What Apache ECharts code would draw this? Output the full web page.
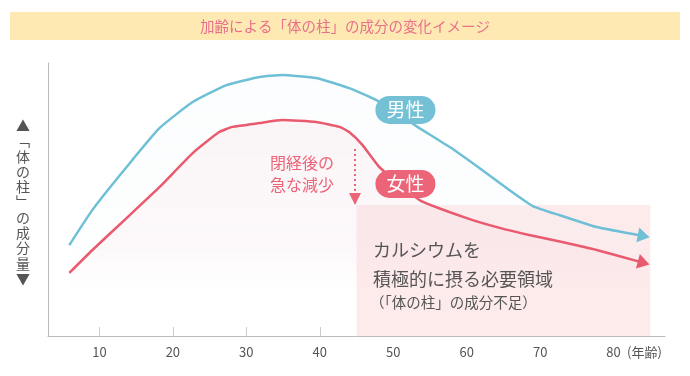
<!DOCTYPE html>
<html>
<head>
<meta charset="utf-8">
<script src="https://cdn.jsdelivr.net/npm/echarts@6/dist/echarts.min.js"></script>
<style>
  html, body { margin: 0; padding: 0; background: #fff; }
  #chart { width: 690px; height: 376px; }
</style>
</head>
<body>
<div id="chart"></div>
<script>
// 年齢 / 成分量 (0-100)
const maleData = [
  [5.9, 33.3], [9.05, 46.2], [13.7, 61.9], [18.2, 76.2], [22.7, 85.7],
  [27.3, 91.9], [31.8, 94.9], [34.9, 95.6], [39.5, 94.5], [44.0, 90.8],
  [47.7, 86.4], [53.3, 76.6], [57.7, 69.2], [62.1, 60.8], [65.8, 53.5],
  [69.0, 47.6], [72.6, 44.3], [77.7, 39.9], [84.1, 36.6]
]
const femaleData = [
  [5.9, 23.1], [9.05, 31.5], [13.7, 43.2], [18.2, 54.6], [22.7, 67.0],
  [26.3, 74.7], [28.1, 76.6], [31.8, 78.0], [34.9, 79.1], [39.5, 78.4],
  [42.7, 76.6], [44.0, 74.7], [45.8, 70.0], [48.1, 61.9], [53.6, 49.8],
  [60.0, 43.2], [64.5, 39.6], [68.5, 37.0], [73.0, 34.4], [77.7, 31.5],
  [84.1, 26.8]
]
const ageTicks = [10, 20, 30, 40, 50, 60, 70, 80]
const shortageRange = [45, 85, 48] // from, to, top value
const dropArrow = [44.8, 68.5, 50.2] // x, from, to

const FONT = '"Noto Sans CJK JP", "Noto Sans", sans-serif'
const BLUE = '#6fbfd6'
const RED = '#ea5a6f'
const BLUE_PILL = '#74c0d5'
const RED_PILL = '#ec6478'
const SMOOTH = 0.15

// 最後の点だけ矢印にする
function withArrow (data, rotate) {
  return data.map((v, i) => {
    if (i < data.length - 1) { return v }
    return {
      value: v,
      symbol: 'triangle',
      symbolSize: [15, 12],
      symbolRotate: rotate
    }
  })
}

// 下に向かって白く消える面
function fadeArea (rgb, alpha) {
  return new echarts.graphic.LinearGradient(0, 0, 0, 1, [
    { offset: 0, color: 'rgba(' + rgb + ',' + alpha + ')' },
    { offset: 0.6, color: 'rgba(' + rgb + ',' + (alpha * 0.6) + ')' },
    { offset: 0.8, color: 'rgba(' + rgb + ',0)' }
  ])
}

const chart = echarts.init(document.getElementById('chart'))

chart.setOption({
  animation: false,
  textStyle: { fontFamily: FONT },
  grid: { left: 48, right: 25, top: 63, bottom: 40 },
  graphic: [
    // タイトル帯
    {
      type: 'rect',
      shape: { x: 10, y: 12, width: 670, height: 28 },
      style: { fill: '#ffe9b3' },
      z: 0
    },
    {
      type: 'text',
      x: 345,
      y: 26,
      style: {
        text: '加齢による「体の柱」の成分の変化イメージ',
        fill: '#e8708a',
        font: '14.5px ' + FONT,
        align: 'center',
        verticalAlign: 'middle'
      }
    },
    // 縦軸の見出し
    {
      type: 'text',
      x: 23,
      y: 118,
      style: {
        text: ['▲', '﹁', '体', 'の', '柱', '﹂', 'の', '成', '分', '量', '▼'].join('\n'),
        fill: '#555',
        font: '14px ' + FONT,
        lineHeight: 15.3,
        align: 'center',
        verticalAlign: 'top'
      }
    },
    {
      type: 'text',
      x: 627,
      y: 352,
      style: {
        text: '(年齢)',
        fill: '#555',
        font: '13px ' + FONT,
        verticalAlign: 'middle'
      }
    },
    {
      type: 'text',
      x: 270,
      y: 152,
      style: {
        text: '閉経後の\n急な減少',
        fill: RED_PILL,
        font: '16px ' + FONT,
        lineHeight: 22,
        verticalAlign: 'top'
      },
      z: 10
    },
    {
      type: 'text',
      x: 373,
      y: 236,
      style: {
        text: 'カルシウムを\n積極的に摂る必要領域',
        fill: '#555',
        font: '18px ' + FONT,
        lineHeight: 29,
        verticalAlign: 'top'
      },
      z: 10
    },
    {
      type: 'text',
      x: 370,
      y: 302,
      style: {
        text: '（「体の柱」の成分不足）',
        fill: '#555',
        font: '14.5px ' + FONT,
        verticalAlign: 'middle'
      },
      z: 10
    }
  ],
  xAxis: {
    type: 'value',
    min: 3,
    max: 87,
    splitLine: { show: false },
    axisLine: { lineStyle: { color: '#bbb' } },
    axisTick: {
      inside: true,
      length: 9,
      customValues: ageTicks,
      lineStyle: { color: '#ccc' }
    },
    axisLabel: {
      customValues: ageTicks,
      color: '#555',
      fontSize: 13,
      margin: 10
    }
  },
  yAxis: {
    type: 'value',
    min: 0,
    max: 100,
    splitLine: { show: false },
    axisLine: { show: true, lineStyle: { color: '#bbb' } },
    axisTick: { show: false },
    axisLabel: { show: false }
  },
  series: [
    // 面だけ
    {
      type: 'line',
      data: maleData,
      smooth: SMOOTH,
      symbol: 'none',
      silent: true,
      z: 1,
      lineStyle: { width: 0, opacity: 0 },
      areaStyle: { color: fadeArea('225, 242, 247', 0.18) }
    },
    {
      type: 'line',
      data: femaleData,
      smooth: SMOOTH,
      symbol: 'none',
      silent: true,
      z: 1,
      lineStyle: { width: 0, opacity: 0 },
      areaStyle: { color: fadeArea('245, 190, 202', 0.2) }
    },
    // 不足領域と矢印
    {
      type: 'line',
      data: [],
      z: 2,
      markArea: {
        silent: true,
        itemStyle: { color: '#fdebec', opacity: 1 },
        data: [[
          { coord: [shortageRange[0], 0] },
          { coord: [shortageRange[1], shortageRange[2]] }
        ]]
      },
      markLine: {
        silent: true,
        symbol: ['none', 'triangle'],
        symbolSize: [12, 12],
        label: { show: false },
        lineStyle: { color: RED_PILL, type: [2, 3], width: 2 },
        data: [[
          { coord: [dropArrow[0], dropArrow[1]] },
          { coord: [dropArrow[0], dropArrow[2]] }
        ]]
      }
    },
    {
      name: '男性',
      type: 'line',
      data: withArrow(maleData, -101),
      smooth: SMOOTH,
      symbol: 'none',
      z: 3,
      lineStyle: { color: BLUE, width: 2.5 },
      itemStyle: { color: BLUE },
      markPoint: {
        symbolSize: 0,
        data: [{ coord: [51.66, 82.8] }],
        label: {
          show: true,
          position: 'inside',
          formatter: '男性',
          color: '#fff',
          fontSize: 19,
          lineHeight: 22,
          backgroundColor: BLUE_PILL,
          borderRadius: 14,
          padding: [3, 11]
        }
      }
    },
    {
      name: '女性',
      type: 'line',
      data: withArrow(femaleData, -105),
      smooth: SMOOTH,
      symbol: 'none',
      z: 3,
      lineStyle: { color: RED, width: 2.5 },
      itemStyle: { color: RED },
      markPoint: {
        symbolSize: 0,
        data: [{ coord: [51.66, 55.7] }],
        label: {
          show: true,
          position: 'inside',
          formatter: '女性',
          color: '#fff',
          fontSize: 19,
          lineHeight: 22,
          backgroundColor: RED_PILL,
          borderRadius: 14,
          padding: [3, 11]
        }
      }
    }
  ]
})
</script>
</body>
</html>
